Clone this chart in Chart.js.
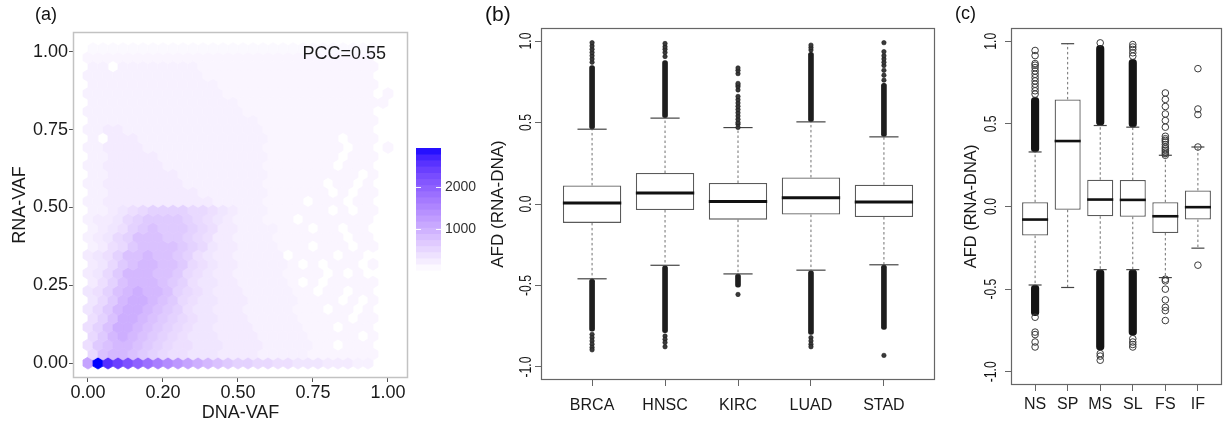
<!DOCTYPE html>
<html>
<head>
<meta charset="utf-8">
<title>VAF and AFD</title>
<script src="https://cdn.jsdelivr.net/npm/chart.js"></script>
<style>
  body { margin: 0; background: #fff; }
  #wrap { position: relative; width: 1227px; height: 424px; overflow: hidden; }
  canvas { position: absolute; top: 0; }
</style>
</head>
<body>
<div id="wrap">
  <canvas id="hexChart" width="480" height="424" style="left:0"></canvas>
  <canvas id="cancerChart" width="460" height="424" style="left:480px"></canvas>
  <canvas id="mutChart" width="287" height="424" style="left:940px"></canvas>
</div>
<script>
  // ---- (a) DNA-VAF vs RNA-VAF, hexbin counts (row 0 = RNA-VAF 0) ----
  const hexColStep = 1 / 30;
  const hexRowStep = 0.02887;
  const hexCodes = "abcdefghijklmnopqrstuvw";
  const hexCounts = [40, 80, 120, 180, 250, 320, 400, 480, 570, 670, 780, 900,
    1030, 1170, 1320, 1480, 1650, 1830, 2020, 2220, 2420, 2620, 2950];
  const hexRows = [
    "nwvutsrqponmlkjiihhggfffeeedd..",
    "hkllkjihggfffeeeedddddccccccc..",
    "gjkllkjihggfffeeeedddddcc.ccc..",
    "hjlmlkjihgfffeeeedddddccccc.c..",
    "gikmmlkjihgffeeeedddddccc.ccc..",
    "gikmmlkjihgffeeedddddccccc.cc..",
    "fhjlmmlkjigffeeedddddccc.cc.c..",
    "fhjlmmlkjhgffeeedddddcccc.c.c..",
    "fgiklmllkihgfeeedddddcc.cc.cc..",
    "egiklllkjigffeedddddc.c.ccccc..",
    "efhjlllkkjhgfeedddddcccc.c.c...",
    "efhjkllkkjhgfeedddddc.c.ccc.c..",
    "efgikklkkjigfeeddddd.cccc.cc...",
    "deghjkkkkjihfeeddddccc.ccc.cc..",
    "defhikkkjjihgeeddddccccccc.cc..",
    "defgijkjjjihgeeddddccc.cc.cc...",
    "deefhijjjjihgfedddccc.ccccccc..",
    "ddefghiiiihhgfedddcccccc.c.cc..",
    "ddeeeeeeeeeeedddddcccc.ccc.cc..",
    "ddeeeeeeeeedddddddcccccc.c.cc..",
    "ddeeeeeeeeddddddddcccccc.cc.c..",
    "ddeeeeeeedddddddddccccccccc.c..",
    "ddeeeeeeddddddddddccccccc.ccc..",
    "ddeeeeedddddddddddccccccc.ccc..",
    "ddeeeeddddddddddddcccccccc.cc.c",
    "d.eeedddddddddddddccccccc.ccc..",
    "ddeeddddddddddddddccccccccccc..",
    "dddddddddddddddddcccccccccccc..",
    "ddddddddddddddddccccccccccccc..",
    "dddddddddddddddccccccccccccccc.",
    "ddddddddddddddccccccccccccccc.c",
    "dddddddddddddcccccccccccccccc..",
    "ddddddddddddccccccccccccccccc..",
    "dd.ddddddddcccccccccccccccccc..",
    "ccccccccccccccccccccccccccccc..",
    "bbbbbbbbbbbbbbbbbbbbbbbbbbbbb.."
  ];
  const vafTicks = [0, 0.25, 0.5, 0.75, 1];
  const dnaTickLabels = ["0.00", "0.20", "0.50", "0.75", "1.00"];
  const rnaTickLabels = ["0.00", "0.25", "0.50", "0.75", "1.00"];
  const countRange = [1, 2950];
  const countBarTicks = [1000, 2000];
  const pccText = "PCC=0.55";

  // ---- (b) AFD by cancer type ----
  const cancerTypes = ["BRCA", "HNSC", "KIRC", "LUAD", "STAD"];
  const cancerQ1 = [-0.116, -0.037, -0.096, -0.065, -0.080];
  const cancerMed = [0.006, 0.067, 0.016, 0.039, 0.012];
  const cancerQ3 = [0.114, 0.190, 0.129, 0.163, 0.118];
  const cancerLo = [-0.459, -0.376, -0.429, -0.406, -0.373];
  const cancerHi = [0.459, 0.527, 0.469, 0.504, 0.412];
  // outlier runs too dense to tell apart: [from, to]
  const cancerDense = [
    [[0.46, 0.85], [-0.78, -0.46]],
    [[0.53, 0.88], [-0.79, -0.38]],
    [[-0.51, -0.43]],
    [[0.505, 0.93], [-0.80, -0.41]],
    [[0.415, 0.74], [-0.77, -0.375]]
  ];
  const cancerOut = [
    [0.87, 0.89, 0.91, 0.93, 0.95, 0.97, 0.99, -0.80, -0.82, -0.84, -0.86, -0.88, -0.895],
    [0.905, 0.93, 0.95, 0.965, 0.985, -0.81, -0.83, -0.85, -0.876],
    [0.47, 0.49, 0.50, 0.52, 0.54, 0.56, 0.58, 0.60, 0.62, 0.64, 0.66, 0.70, 0.72, 0.73, 0.74, 0.80, 0.82, 0.835, -0.555],
    [0.945, 0.96, 0.975, -0.82, -0.84, -0.86, -0.876],
    [0.76, 0.79, 0.82, 0.85, 0.87, 0.89, 0.91, 0.935, 0.99, -0.929]
  ];

  // ---- (c) AFD by mutation type ----
  const mutTypes = ["NS", "SP", "MS", "SL", "FS", "IF"];
  const mutQ1 = [-0.176, -0.020, -0.059, -0.062, -0.160, -0.079];
  const mutMed = [-0.079, 0.396, 0.042, 0.040, -0.059, -0.004];
  const mutQ3 = [0.026, 0.648, 0.162, 0.160, 0.026, 0.097];
  const mutLo = [-0.475, -0.490, -0.382, -0.382, -0.430, -0.252];
  const mutHi = [0.330, 0.985, 0.490, 0.480, 0.310, 0.360];
  const mutDense = [
    [[0.33, 0.66], [-0.66, -0.475]],
    [],
    [[0.49, 0.975], [-0.87, -0.382]],
    [[0.48, 0.89], [-0.78, -0.382]],
    [],
    []
  ];
  const mutOut = [
    [0.68, 0.70, 0.72, 0.74, 0.76, 0.78, 0.80, 0.82, 0.84, 0.855, 0.865, 0.913, 0.944, -0.67, -0.76, -0.775, -0.82, -0.85],
    [],
    [0.99, -0.89, -0.905, -0.93],
    [0.91, 0.93, 0.95, 0.965, 0.98, -0.80, -0.82, -0.835, -0.85],
    [0.31, 0.32, 0.33, 0.34, 0.35, 0.36, 0.375, 0.39, 0.40, 0.41, 0.425, 0.48, 0.52, 0.56, 0.605, 0.648, 0.687,
     -0.44, -0.45, -0.50, -0.565, -0.61, -0.63, -0.69],
    [0.834, 0.59, 0.556, 0.36, -0.355]
  ];
  const afdTicks = [-1, -0.5, 0, 0.5, 1];
  const afdTickLabels = ["-1.0", "-0.5", "0.0", "0.5", "1.0"];

  const FONT = '"Liberation Sans", Arial, sans-serif';
  Chart.defaults.font.family = FONT;
  Chart.defaults.color = "#1a1a1a";

  // white -> blue in Lab, like ggplot's gradient
  function toLab([r, g, b]) {
    const lin = c => { c /= 255; return c <= 0.04045 ? c / 12.92 : Math.pow((c + 0.055) / 1.055, 2.4); };
    const R = lin(r), G = lin(g), B = lin(b);
    const X = (0.4124 * R + 0.3576 * G + 0.1805 * B) / 0.95047;
    const Y = 0.2126 * R + 0.7152 * G + 0.0722 * B;
    const Z = (0.0193 * R + 0.1192 * G + 0.9505 * B) / 1.08883;
    const f = t => t > 0.008856 ? Math.cbrt(t) : 7.787 * t + 16 / 116;
    return [116 * f(Y) - 16, 500 * (f(X) - f(Y)), 200 * (f(Y) - f(Z))];
  }
  function fromLab([L, a, b]) {
    const fy = (L + 16) / 116, fx = fy + a / 500, fz = fy - b / 200;
    const inv = t => t * t * t > 0.008856 ? t * t * t : (t - 16 / 116) / 7.787;
    const X = inv(fx) * 0.95047, Y = inv(fy), Z = inv(fz) * 1.08883;
    const R = 3.2406 * X - 1.5372 * Y - 0.4986 * Z;
    const G = -0.9689 * X + 1.8758 * Y + 0.0415 * Z;
    const B = 0.0557 * X - 0.2040 * Y + 1.0570 * Z;
    const gam = c => { c = Math.min(1, Math.max(0, c)); return Math.round(255 * (c <= 0.0031308 ? 12.92 * c : 1.055 * Math.pow(c, 1 / 2.4) - 0.055)); };
    return "rgb(" + gam(R) + "," + gam(G) + "," + gam(B) + ")";
  }
  const LAB_LOW = toLab([255, 255, 255]);
  const LAB_HIGH = toLab([0, 0, 255]);
  function countColor(n) {
    const t = Math.min(1, Math.max(0, (n - countRange[0]) / (countRange[1] - countRange[0])));
    return fromLab(LAB_LOW.map((v, k) => v + (LAB_HIGH[k] - v) * t));
  }

  const hexPoints = [];
  hexRows.forEach((row, i) => {
    for (let j = 0; j < row.length; j++) {
      const k = hexCodes.indexOf(row[j]);
      if (k < 0) continue;
      hexPoints.push({ x: (j + (i % 2 ? 0.5 : 0)) * hexColStep, y: i * hexRowStep, n: hexCounts[k] });
    }
  });

  const hexbinPlugin = {
    id: "hexbin",
    beforeDatasetsDraw(chart) {
      const { ctx, chartArea: a, scales: { x, y } } = chart;
      const hw = (x.getPixelForValue(hexColStep) - x.getPixelForValue(0)) / 2;
      const r = (y.getPixelForValue(0) - y.getPixelForValue(hexRowStep)) / 1.5;
      const pts = chart.data.datasets[0].data;
      ctx.save();
      ctx.beginPath();
      ctx.rect(a.left, a.top, a.width, a.height);
      ctx.clip();
      chart.getDatasetMeta(0).data.forEach((el, k) => {
        ctx.fillStyle = countColor(pts[k].n);
        ctx.strokeStyle = ctx.fillStyle;
        ctx.lineWidth = 0.8;
        ctx.beginPath();
        ctx.moveTo(el.x, el.y - r);
        ctx.lineTo(el.x + hw, el.y - r / 2);
        ctx.lineTo(el.x + hw, el.y + r / 2);
        ctx.lineTo(el.x, el.y + r);
        ctx.lineTo(el.x - hw, el.y + r / 2);
        ctx.lineTo(el.x - hw, el.y - r / 2);
        ctx.closePath();
        ctx.fill();
        ctx.stroke();
      });
      ctx.restore();
    }
  };

  const colorbarPlugin = {
    id: "colorbar",
    afterDraw(chart) {
      const { ctx, chartArea: a } = chart;
      const left = a.right + 8, w = 25, top = 148, bottom = 270;
      const [lo, hi] = countRange;
      const py = n => bottom - (n - lo) / (hi - lo) * (bottom - top);
      const bins = 20;
      ctx.save();
      for (let k = 0; k < bins; k++) {
        const n0 = lo + (hi - lo) * k / bins, n1 = lo + (hi - lo) * (k + 1) / bins;
        ctx.fillStyle = countColor((n0 + n1) / 2);
        ctx.fillRect(left, py(n1), w, py(n0) - py(n1) + 0.6);
      }
      ctx.strokeStyle = "rgba(255,255,255,0.9)";
      ctx.lineWidth = 1;
      ctx.fillStyle = "#333";
      ctx.font = "14px " + FONT;
      ctx.textAlign = "left";
      ctx.textBaseline = "middle";
      countBarTicks.forEach(v => {
        const yy = Math.round(py(v)) + 0.5;
        ctx.beginPath();
        ctx.moveTo(left, yy); ctx.lineTo(left + 5, yy);
        ctx.moveTo(left + w - 5, yy); ctx.lineTo(left + w, yy);
        ctx.stroke();
        ctx.fillText(String(v), left + w + 4, yy);
      });
      ctx.restore();
    }
  };

  const pccPlugin = {
    id: "pcc",
    afterDatasetsDraw(chart) {
      const { ctx, scales: { x, y } } = chart;
      ctx.save();
      ctx.font = "18px " + FONT;
      ctx.fillStyle = "#1a1a1a";
      ctx.textAlign = "left";
      ctx.textBaseline = "middle";
      ctx.fillText(pccText, x.getPixelForValue(0.715), y.getPixelForValue(0.994));
      ctx.restore();
    }
  };

  const framePlugin = {
    id: "frame",
    afterDatasetsDraw(chart, args, o) {
      const { ctx, chartArea: a } = chart;
      ctx.save();
      ctx.strokeStyle = o.color;
      ctx.lineWidth = o.width;
      ctx.strokeRect(Math.round(a.left) + 0.5, Math.round(a.top) + 0.5, Math.round(a.width) - 1, Math.round(a.height) - 1);
      ctx.restore();
    }
  };

  const panelLabelPlugin = {
    id: "panelLabel",
    afterDraw(chart, args, o) {
      const ctx = chart.ctx;
      ctx.save();
      ctx.font = o.size + "px " + FONT;
      ctx.fillStyle = "#111";
      ctx.textAlign = "left";
      ctx.textBaseline = "middle";
      ctx.fillText(o.text, o.x, o.y);
      ctx.restore();
    }
  };

  // base-R style labels, written along the y axis
  const rotatedTicksPlugin = {
    id: "rotatedTicks",
    afterDraw(chart, args, o) {
      const { ctx, chartArea: a } = chart;
      const s = chart.scales.y;
      ctx.save();
      ctx.fillStyle = "#111";
      ctx.font = "16px " + FONT;
      ctx.textAlign = "center";
      ctx.textBaseline = "middle";
      s.ticks.forEach(t => {
        ctx.save();
        ctx.translate(a.left - o.offset, s.getPixelForValue(t.value));
        ctx.rotate(-Math.PI / 2);
        ctx.scale(0.76, 1);
        ctx.fillText(t.label, 0, 0);
        ctx.restore();
      });
      ctx.restore();
    }
  };

  new Chart(document.getElementById("hexChart"), {
    type: "scatter",
    data: { datasets: [{ data: hexPoints, pointRadius: 0, pointHoverRadius: 0 }] },
    options: {
      responsive: false,
      animation: false,
      events: [],
      layout: { padding: { left: 0, right: 72, top: 32, bottom: 0 } },
      plugins: {
        legend: { display: false },
        tooltip: { enabled: false },
        frame: { color: "#c2c2c2", width: 1.5 },
        panelLabel: { text: "(a)", x: 35, y: 15, size: 18 }
      },
      scales: {
        x: {
          type: "linear", min: -0.05, max: 1.0667,
          afterBuildTicks: s => { s.ticks = vafTicks.map(v => ({ value: v })); },
          afterFit: s => { s.height = 46; },
          ticks: { callback: (v, i) => dnaTickLabels[i], font: { size: 18 }, color: "#1a1a1a", padding: 0, maxRotation: 0, autoSkip: false },
          grid: { drawOnChartArea: false, tickLength: 4, tickColor: "#555" },
          border: { display: false },
          title: { display: true, text: "DNA-VAF", font: { size: 18 }, color: "#1a1a1a", padding: { top: 0, bottom: 0 } }
        },
        y: {
          type: "linear", min: -0.048, max: 1.064,
          afterBuildTicks: s => { s.ticks = vafTicks.map(v => ({ value: v })); },
          afterFit: s => { s.width = 73; },
          ticks: { callback: (v, i) => rnaTickLabels[i], font: { size: 18 }, color: "#1a1a1a", padding: 1, autoSkip: false },
          grid: { drawOnChartArea: false, tickLength: 4, tickColor: "#555" },
          border: { display: false },
          title: { display: true, text: "RNA-VAF", font: { size: 18 }, color: "#1a1a1a", padding: { top: 9, bottom: 0 } }
        }
      }
    },
    plugins: [hexbinPlugin, pccPlugin, framePlugin, colorbarPlugin, panelLabelPlugin]
  });

  function boxChart(id, cats, q1, med, q3, lo, hi, dense, out, look) {
    const whisk = [], caps = [], boxes = [], meds = [], bands = [], dots = [];
    cats.forEach((c, i) => {
      const x = i + 1;
      whisk.push({ x, y: q3[i] }, { x, y: hi[i] }, { x, y: null }, { x, y: q1[i] }, { x, y: lo[i] }, { x, y: null });
      caps.push({ x, y: hi[i] }, { x, y: lo[i] });
      boxes.push({ x, y: [q1[i], q3[i]] });
      meds.push({ x, y: med[i] });
      dense[i].forEach(r => bands.push({ x, y: r }));
      out[i].forEach(v => dots.push({ x, y: v }));
    });
    const unitPx = ch => ch.scales.x.getPixelForValue(1) - ch.scales.x.getPixelForValue(0);

    return new Chart(document.getElementById(id), {
      type: "scatter",
      data: {
        datasets: [
          { type: "line", data: whisk, borderColor: "#707070", borderWidth: 1, borderDash: [2.5, 2.5], pointRadius: 0, spanGaps: false, order: 6 },
          { type: "bar", data: bands, backgroundColor: look.denseColor, barThickness: look.denseWidth, borderRadius: look.denseWidth / 2, borderSkipped: false, grouped: false, order: 5 },
          { type: "bar", data: boxes, backgroundColor: "#fff", borderColor: "#5a5a5a", borderWidth: 1.3, borderSkipped: false, barPercentage: 0.8, categoryPercentage: 1, grouped: false, order: 4 },
          { data: meds, pointStyle: "line", pointRadius: c => 0.4 * unitPx(c.chart), borderColor: "#111", borderWidth: look.medWidth, order: 3 },
          { data: caps, pointStyle: "line", pointRadius: c => 0.2 * unitPx(c.chart), borderColor: "#444", borderWidth: 1.2, order: 2 },
          { data: dots, pointStyle: "circle", pointRadius: look.dotRadius, backgroundColor: look.dotFill, borderColor: look.dotEdge, borderWidth: look.dotEdgeWidth, order: 1 }
        ]
      },
      options: {
        responsive: false,
        animation: false,
        events: [],
        layout: { padding: { left: 0, right: look.padRight, top: 28, bottom: 0 } },
        plugins: {
          legend: { display: false },
          tooltip: { enabled: false },
          frame: { color: "#666", width: 1.2 },
          rotatedTicks: { offset: look.tickOffset },
          panelLabel: look.label
        },
        scales: {
          x: {
            type: "linear", min: look.xMin, max: look.xMax, offset: false,
            afterBuildTicks: s => { s.ticks = cats.map((c, i) => ({ value: i + 1 })); },
            afterFit: s => { s.height = look.xAxisHeight; },
            ticks: { callback: (v, i) => cats[i], font: { size: 16 }, color: "#1a1a1a", padding: look.labelPad, maxRotation: 0, autoSkip: false },
            grid: { drawOnChartArea: false, offset: false, tickLength: 6, tickColor: "#666" },
            border: { display: false }
          },
          y: {
            type: "linear", min: -1.08, max: 1.08,
            afterBuildTicks: s => { s.ticks = afdTicks.map(v => ({ value: v })); },
            afterFit: s => { s.width = look.yAxisWidth; },
            ticks: { callback: (v, i) => afdTickLabels[i], color: "rgba(0,0,0,0)", font: { size: 16 }, autoSkip: false },
            grid: { drawOnChartArea: false, tickLength: 6, tickColor: "#666" },
            border: { display: false },
            title: { display: true, text: "AFD (RNA-DNA)", font: { size: look.titleSize }, color: "#1a1a1a", padding: { top: look.titlePad, bottom: 0 } }
          }
        }
      },
      plugins: [framePlugin, rotatedTicksPlugin, panelLabelPlugin]
    });
  }

  boxChart("cancerChart", cancerTypes, cancerQ1, cancerMed, cancerQ3, cancerLo, cancerHi, cancerDense, cancerOut, {
    xMin: 0.3, xMax: 5.7, yAxisWidth: 61, xAxisHeight: 44, padRight: 5, titlePad: 8, titleSize: 17,
    tickOffset: 14, labelPad: 10, medWidth: 3,
    denseColor: "#1e1e1e", denseWidth: 5,
    dotRadius: 2.2, dotFill: "#3a3a3a", dotEdge: "#1a1a1a", dotEdgeWidth: 0.6,
    label: { text: "(b)", x: 5, y: 15, size: 21 }
  });

  boxChart("mutChart", mutTypes, mutQ1, mutMed, mutQ3, mutLo, mutHi, mutDense, mutOut, {
    xMin: 0.26, xMax: 6.74, yAxisWidth: 71, xAxisHeight: 39, padRight: 1, titlePad: 22, titleSize: 16.5,
    tickOffset: 19, labelPad: 4, medWidth: 2.6,
    denseColor: "#141414", denseWidth: 7.5,
    dotRadius: 3.3, dotFill: "rgba(255,255,255,0)", dotEdge: "#3a3a3a", dotEdgeWidth: 1,
    label: { text: "(c)", x: 15, y: 14, size: 18 }
  });
</script>
</body>
</html>
